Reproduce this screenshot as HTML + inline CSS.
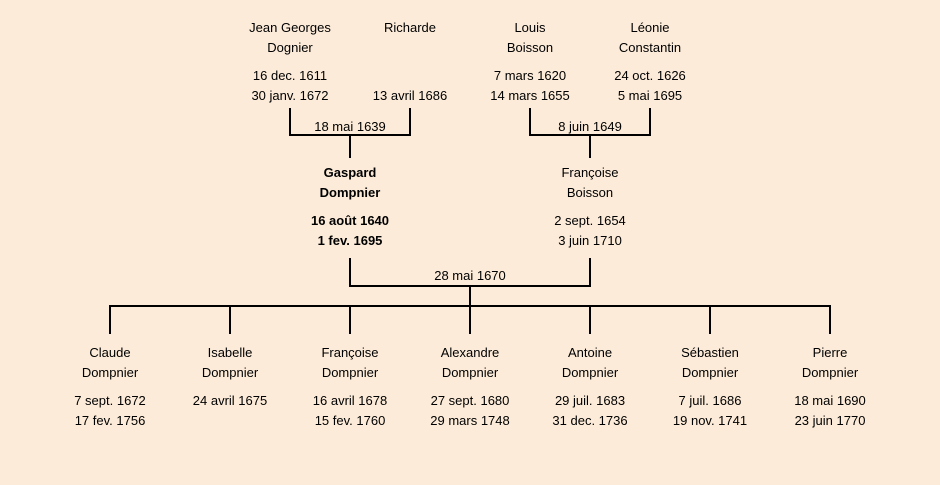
<!DOCTYPE html>
<html><head><meta charset="utf-8"><style>
html,body{margin:0;padding:0;background:#fcebd8;}
svg{display:block}
text{font-family:"Liberation Sans",sans-serif;font-size:13px;fill:#000;text-anchor:middle}
.b{font-weight:bold}
line{stroke:#000;stroke-width:2}
</style></head><body>
<svg width="940" height="485" viewBox="0 0 940 485">
<rect width="940" height="485" fill="#fcebd8"/>
<!-- top generation -->
<text x="290" y="32">Jean Georges</text><text x="290" y="52">Dognier</text>
<text x="290" y="80">16 dec. 1611</text><text x="290" y="100">30 janv. 1672</text>
<text x="410" y="32">Richarde</text>
<text x="410" y="100">13 avril 1686</text>
<text x="530" y="32">Louis</text><text x="530" y="52">Boisson</text>
<text x="530" y="80">7 mars 1620</text><text x="530" y="100">14 mars 1655</text>
<text x="650" y="32">Léonie</text><text x="650" y="52">Constantin</text>
<text x="650" y="80">24 oct. 1626</text><text x="650" y="100">5 mai 1695</text>
<line x1="290" y1="108" x2="290" y2="136"/><line x1="410" y1="108" x2="410" y2="136"/>
<line x1="289" y1="135" x2="411" y2="135"/><line x1="350" y1="135" x2="350" y2="158"/>
<text x="350" y="131">18 mai 1639</text>
<line x1="530" y1="108" x2="530" y2="136"/><line x1="650" y1="108" x2="650" y2="136"/>
<line x1="529" y1="135" x2="651" y2="135"/><line x1="590" y1="135" x2="590" y2="158"/>
<text x="590" y="131">8 juin 1649</text>
<!-- middle -->
<text class="b" x="350" y="177">Gaspard</text><text class="b" x="350" y="197">Dompnier</text>
<text class="b" x="350" y="225">16 août 1640</text><text class="b" x="350" y="245">1 fev. 1695</text>
<text x="590" y="177">Françoise</text><text x="590" y="197">Boisson</text>
<text x="590" y="225">2 sept. 1654</text><text x="590" y="245">3 juin 1710</text>
<line x1="350" y1="258" x2="350" y2="287"/><line x1="590" y1="258" x2="590" y2="287"/>
<line x1="349" y1="286" x2="591" y2="286"/><line x1="470" y1="286" x2="470" y2="307"/>
<text x="470" y="280">28 mai 1670</text>
<line x1="109" y1="306" x2="831" y2="306"/>
<line x1="110" y1="306" x2="110" y2="334"/><line x1="230" y1="306" x2="230" y2="334"/>
<line x1="350" y1="306" x2="350" y2="334"/><line x1="470" y1="306" x2="470" y2="334"/>
<line x1="590" y1="306" x2="590" y2="334"/><line x1="710" y1="306" x2="710" y2="334"/>
<line x1="830" y1="306" x2="830" y2="334"/>
<!-- children -->
<text x="110" y="357">Claude</text><text x="110" y="377">Dompnier</text>
<text x="110" y="405">7 sept. 1672</text><text x="110" y="425">17 fev. 1756</text>
<text x="230" y="357">Isabelle</text><text x="230" y="377">Dompnier</text>
<text x="230" y="405">24 avril 1675</text>
<text x="350" y="357">Françoise</text><text x="350" y="377">Dompnier</text>
<text x="350" y="405">16 avril 1678</text><text x="350" y="425">15 fev. 1760</text>
<text x="470" y="357">Alexandre</text><text x="470" y="377">Dompnier</text>
<text x="470" y="405">27 sept. 1680</text><text x="470" y="425">29 mars 1748</text>
<text x="590" y="357">Antoine</text><text x="590" y="377">Dompnier</text>
<text x="590" y="405">29 juil. 1683</text><text x="590" y="425">31 dec. 1736</text>
<text x="710" y="357">Sébastien</text><text x="710" y="377">Dompnier</text>
<text x="710" y="405">7 juil. 1686</text><text x="710" y="425">19 nov. 1741</text>
<text x="830" y="357">Pierre</text><text x="830" y="377">Dompnier</text>
<text x="830" y="405">18 mai 1690</text><text x="830" y="425">23 juin 1770</text>
</svg>
</body></html>
